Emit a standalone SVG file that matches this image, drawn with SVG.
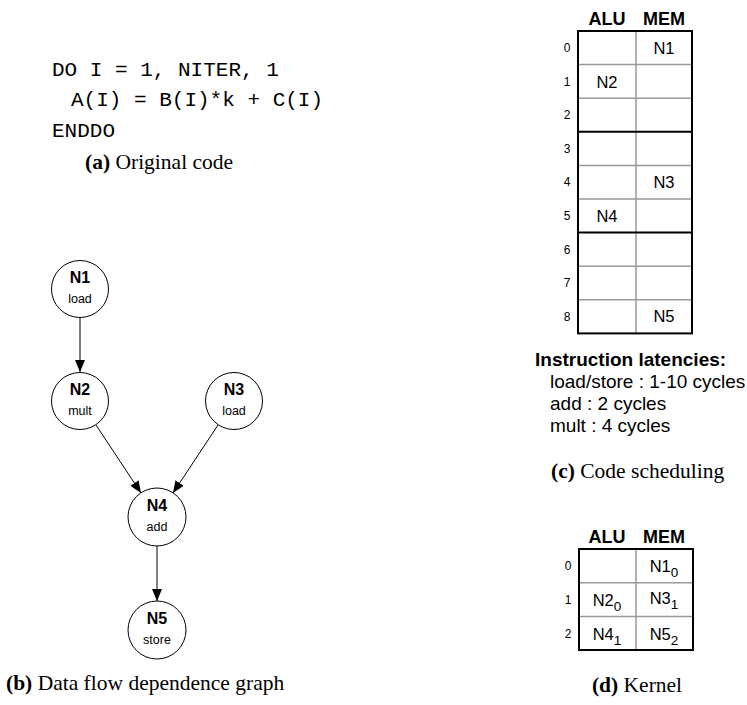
<svg xmlns="http://www.w3.org/2000/svg" width="747" height="705" viewBox="0 0 747 705">
<style>
.code{font-family:"Liberation Mono",monospace;font-size:21px;fill:#000}
.cap{font-family:"Liberation Serif",serif;font-size:21.5px;fill:#000}
.capb{font-weight:bold}
.nid{font-family:"Liberation Sans",Arial,sans-serif;font-size:16px;font-weight:bold;text-anchor:middle}
.nop{font-family:"Liberation Sans",Arial,sans-serif;font-size:12.5px;text-anchor:middle}
.node{fill:#fff;stroke:#000;stroke-width:1}
.edge{stroke:#000;stroke-width:1;fill:none}
.hdr{font-family:"Liberation Sans",Arial,sans-serif;font-size:18px;font-weight:bold;text-anchor:middle}
.cell{font-family:"Liberation Sans",Arial,sans-serif;font-size:16.5px;text-anchor:middle}
.rn{font-family:"Liberation Sans",Arial,sans-serif;font-size:12px;text-anchor:middle}
.lat{font-family:"Liberation Sans",Arial,sans-serif;font-size:19px}
.g{stroke:#999;stroke-width:1.5}
.k{stroke:#000;stroke-width:2}
.out{fill:none;stroke:#000;stroke-width:2}
</style>
<defs>
<marker id="arr" markerWidth="12" markerHeight="10" refX="12" refY="5" orient="auto" markerUnits="userSpaceOnUse">
<path d="M0,0 L12,5 L0,10 Z" fill="#000"/>
</marker>
</defs>

<g id="code">
<text class="code" x="52" y="76">DO I = 1, NITER, 1</text>
<text class="code" x="71" y="106">A(I) = B(I)*k + C(I)</text>
<text class="code" x="52" y="137">ENDDO</text>
<text class="cap" x="85" y="169" font-size="22"><tspan class="capb">(a)</tspan> Original code</text>
</g>

<g id="connectors">
<line class="edge" x1="80" y1="318" x2="80" y2="372" marker-end="url(#arr)"/>
<line class="edge" x1="96" y1="425" x2="141" y2="493" marker-end="url(#arr)"/>
<line class="edge" x1="218" y1="425" x2="173" y2="493" marker-end="url(#arr)"/>
<line class="edge" x1="157" y1="546" x2="157" y2="601" marker-end="url(#arr)"/>
</g>

<g id="N1">
<circle class="node" cx="80" cy="289" r="28.5"/>
<text class="nid" x="80" y="283">N1</text>
<text class="nop" x="80" y="303">load</text>
</g>
<g id="N2">
<circle class="node" cx="80" cy="401" r="28.5"/>
<text class="nid" x="80" y="395">N2</text>
<text class="nop" x="80" y="415">mult</text>
</g>
<g id="N3">
<circle class="node" cx="234" cy="401" r="28.5"/>
<text class="nid" x="234" y="395">N3</text>
<text class="nop" x="234" y="415">load</text>
</g>
<g id="N4">
<circle class="node" cx="157" cy="517" r="29"/>
<text class="nid" x="157" y="511">N4</text>
<text class="nop" x="157" y="531">add</text>
</g>
<g id="N5">
<circle class="node" cx="157" cy="630" r="29"/>
<text class="nid" x="157" y="624">N5</text>
<text class="nop" x="157" y="644">store</text>
</g>
<text class="cap" x="6" y="690"><tspan class="capb">(b)</tspan> Data flow dependence graph</text>

<g id="schedule">
<text class="hdr" x="607" y="25">ALU</text>
<text class="hdr" x="664" y="25">MEM</text>
<line class="g" x1="636" y1="31" x2="636" y2="333"/>
<line class="g" x1="578" y1="64.6" x2="692" y2="64.6"/>
<line class="g" x1="578" y1="98.2" x2="692" y2="98.2"/>
<line class="k" x1="578" y1="131.8" x2="692" y2="131.8"/>
<line class="g" x1="578" y1="165.4" x2="692" y2="165.4"/>
<line class="g" x1="578" y1="199" x2="692" y2="199"/>
<line class="k" x1="578" y1="232.6" x2="692" y2="232.6"/>
<line class="g" x1="578" y1="266.2" x2="692" y2="266.2"/>
<line class="g" x1="578" y1="299.8" x2="692" y2="299.8"/>
<rect class="out" x="578" y="31" width="114" height="302.4"/>
<text class="rn" x="567" y="52">0</text>
<text class="rn" x="567" y="86">1</text>
<text class="rn" x="567" y="119">2</text>
<text class="rn" x="567" y="153">3</text>
<text class="rn" x="567" y="186">4</text>
<text class="rn" x="567" y="220">5</text>
<text class="rn" x="567" y="254">6</text>
<text class="rn" x="567" y="287">7</text>
<text class="rn" x="567" y="321">8</text>
<text class="cell" x="664" y="54">N1</text>
<text class="cell" x="607" y="88">N2</text>
<text class="cell" x="664" y="188">N3</text>
<text class="cell" x="607" y="222">N4</text>
<text class="cell" x="664" y="322">N5</text>
</g>

<g id="latencies">
<text class="lat" x="535" y="366" font-weight="bold">Instruction latencies:</text>
<text class="lat" x="550" y="388">load/store : 1-10 cycles</text>
<text class="lat" x="550" y="410">add : 2 cycles</text>
<text class="lat" x="550" y="432">mult : 4 cycles</text>
<text class="cap" x="551" y="478"><tspan class="capb">(c)</tspan> Code scheduling</text>
</g>

<g id="kernel">
<text class="hdr" x="607" y="543">ALU</text>
<text class="hdr" x="664" y="543">MEM</text>
<line class="g" x1="636" y1="549" x2="636" y2="650"/>
<line class="g" x1="579" y1="582.7" x2="693" y2="582.7"/>
<line class="g" x1="579" y1="616.4" x2="693" y2="616.4"/>
<rect class="out" x="579" y="549" width="114" height="101"/>
<text class="rn" x="568" y="570">0</text>
<text class="rn" x="568" y="604">1</text>
<text class="rn" x="568" y="638">2</text>
<text class="cell" x="664" y="572">N1<tspan font-size="13.5" dy="5">0</tspan></text>
<text class="cell" x="607" y="606">N2<tspan font-size="13.5" dy="5">0</tspan></text>
<text class="cell" x="664" y="604">N3<tspan font-size="13.5" dy="5">1</tspan></text>
<text class="cell" x="607" y="640">N4<tspan font-size="13.5" dy="5">1</tspan></text>
<text class="cell" x="664" y="640">N5<tspan font-size="13.5" dy="5">2</tspan></text>
<text class="cap" x="637" y="692" text-anchor="middle"><tspan class="capb">(d)</tspan> Kernel</text>
</g>
</svg>
